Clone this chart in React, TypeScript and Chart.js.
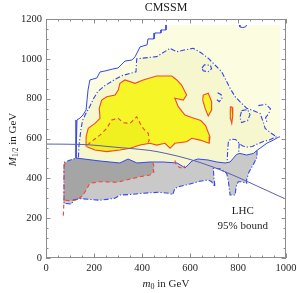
import React, { useEffect, useRef } from 'react';
import { Chart, registerables } from 'chart.js';
Chart.register(...registerables);

type P = [number, number];

// ---------- text & axes ----------
const chartTitle = 'CMSSM';
const xTickValues = [0, 200, 400, 600, 800, 1000];
const yTickValues = [0, 200, 400, 600, 800, 1000, 1200];
const minorStep = 50;
const xRange: P = [0, 1000];
const yRange: P = [0, 1200];
const boundLabels = ['LHC', '95% bound'];
const boundLabelM0 = [820, 820];
const boundLabelM = [236, 161];

// ---------- contours (m0, M1/2) in GeV ----------
const outerSolidLeft: P[] = [
  [500, 1170], [500, 1145], [479, 1145], [479, 1130], [454, 1130], [450, 1100], [425, 1100],
  [421, 1070], [392, 1060], [371, 1010], [358, 994], [329, 989], [321, 979], [300, 954],
  [279, 949], [246, 939], [225, 934], [212, 904], [183, 894], [175, 843], [167, 743],
  [154, 718], [142, 703], [129, 693], [125, 678], [125, 502],
];
const outerSolidLower: P[] = [
  [125, 502], [225, 487], [308, 477], [342, 497], [379, 477], [433, 482], [488, 482],
  [546, 477], [567, 462], [579, 452], [592, 467], [608, 487], [633, 497], [675, 492],
  [712, 482], [746, 477], [767, 482], [794, 520], [808, 525], [836, 517], [864, 525],
  [879, 540], [920, 576], [947, 592], [968, 606], [975, 609],
];
const gridCorner: P[] = [[975, 1170]];
const solidBlip: P[] = [[805, 1170], [808, 1160], [820, 1157], [832, 1161], [836, 1170]];

const dashDotUpper: P[] = [
  [135, 505], [137, 560], [145, 640], [152, 690], [166, 725], [180, 755], [195, 793],
  [215, 835], [245, 865], [285, 895], [315, 915], [375, 935], [378, 1000], [461, 1011],
  [517, 1053], [545, 1036], [575, 1044], [614, 1053], [649, 1028], [676, 1003],
  [704, 969], [732, 935], [746, 902], [767, 852], [788, 810], [808, 785], [836, 752],
  [857, 743], [892, 726], [905, 684], [913, 651], [940, 625], [961, 609], [935, 595],
  [905, 585], [880, 572], [860, 560], [840, 557], [820, 562], [805, 575], [790, 595],
  [770, 597], [760, 585], [757, 540], [755, 483],
];
const dashDotFinger: P[] = [[805, 575], [803, 528]];
const dashDotLower: P[] = [
  [879, 540], [879, 505], [864, 470], [845, 430], [836, 392], [836, 375], [815, 383],
  [801, 383], [792, 358], [788, 316], [767, 316], [760, 383], [753, 425], [725, 448],
  [697, 450], [700, 400], [704, 358], [690, 383], [676, 392], [640, 385], [600, 372],
  [560, 360], [537, 350], [528, 318], [515, 325], [470, 330], [400, 325], [363, 320],
  [308, 316], [287, 300], [225, 290], [142, 298], [114, 291], [107, 271], [75, 274],
  [75, 480], [125, 502],
];
const dashLoopA: P[] = [[650, 955], [660, 970], [685, 968], [690, 950], [675, 935], [655, 940], [650, 955]];
const dashLoopB: P[] = [[715, 830], [730, 820], [733, 800], [722, 785], [712, 795]];
const dashLoopC: P[] = [[815, 740], [840, 745], [850, 720], [840, 690], [815, 680], [808, 705], [815, 740]];
const dashLoopD: P[] = [[885, 765], [915, 772], [935, 750], [928, 725], [915, 705], [920, 684]];

const redSolidMain: P[] = [
  [167, 559], [167, 609], [176, 651], [204, 676], [225, 701], [222, 751], [232, 793],
  [253, 810], [288, 818], [301, 843], [308, 877], [329, 894], [371, 877], [405, 894],
  [461, 914], [524, 914], [545, 894], [565, 868], [586, 818], [572, 793], [537, 802],
  [551, 760], [579, 718], [607, 705], [645, 690], [665, 665], [683, 609], [680, 576],
  [642, 592], [607, 601], [586, 584], [537, 576], [517, 551], [496, 576], [461, 567],
  [433, 576], [392, 567], [350, 551], [308, 542], [253, 534], [204, 542], [170, 559],
  [167, 559],
];
const redSolidIsland: P[] = [[653, 793], [655, 818], [676, 827], [690, 785], [690, 743], [676, 713], [663, 751], [653, 793]];
const redSolidSliver: P[] = [[768, 760], [775, 757], [778, 715], [774, 676], [769, 700], [768, 760]];

const redDashedUpper: P[] = [
  [172, 567], [197, 592], [225, 617], [253, 651], [274, 693], [301, 701], [322, 679],
  [350, 676], [371, 701], [378, 709], [392, 676], [405, 651], [426, 626], [430, 590], [420, 572],
];
const redDashedUpperBase: P[] = [[392, 565], [350, 550], [308, 541], [253, 533], [204, 541], [172, 558]];
const redDashedLower: P[] = [
  [445, 480], [450, 460], [447, 440], [450, 433], [433, 417], [392, 408], [336, 392],
  [295, 380], [225, 383], [183, 375], [155, 316], [128, 291], [100, 288], [78, 290],
];
const redDashedLowerTop: P[] = [[80, 478], [125, 502], [225, 487], [308, 477], [342, 497], [379, 477], [433, 482]];
const redDashedLeft: P[] = [[80, 478], [75, 455], [75, 290], [72, 207]];
const redDashedHook: P[] = [[537, 490], [542, 470], [555, 455], [570, 450], [579, 462]];

const lhcM0 = [0, 150, 300, 433, 500, 600, 700, 800, 900, 1000];
const lhcM = [572, 570, 555, 540, 525, 495, 455, 405, 350, 295];

// ---------- colours ----------
const paleCream = '#fcfce1';
const cream = '#f6f6cf';
const yellow = '#f5f528';
const deepYellow = '#f0f020';
const lightGrey = '#c9c9c9';
const darkGrey = '#a5a5a5';
const blue = '#3446ee';
const red = '#f2482a';
const lhcBlue = '#5a5fb4';
const serif = '"Liberation Serif", "DejaVu Serif", serif';

const pts = (a: P[]) => a.map(([x, y]) => ({ x, y }));

function fillDs(data: P[], color: string) {
  return {
    data: pts(data), backgroundColor: color, borderColor: 'rgba(0,0,0,0)', borderWidth: 0,
    fill: 'shape', pointRadius: 0, pointHoverRadius: 0, tension: 0,
  };
}
function lineDs(data: P[], color: string, width: number, dash: number[] = []) {
  return {
    data: pts(data), borderColor: color, backgroundColor: color, borderWidth: width,
    borderDash: dash, fill: false, pointRadius: 0, pointHoverRadius: 0, tension: 0,
  };
}

function drawRich(ctx: CanvasRenderingContext2D, parts: { t: string; font: string; dy: number }[], cx: number, cy: number) {
  let w = 0;
  for (const p of parts) { ctx.font = p.font; w += ctx.measureText(p.t).width; }
  let x = cx - w / 2;
  ctx.textAlign = 'left';
  ctx.textBaseline = 'alphabetic';
  for (const p of parts) {
    ctx.font = p.font;
    ctx.fillText(p.t, x, cy + p.dy);
    x += ctx.measureText(p.t).width;
  }
}

const decorations = {
  id: 'decorations',
  afterDraw(chart: any) {
    const { ctx, chartArea: a, scales } = chart;
    const xs = scales.x, ys = scales.y;
    ctx.save();
    ctx.strokeStyle = '#8c8c8c';
    ctx.lineWidth = 1;
    ctx.strokeRect(a.left + 0.5, a.top + 0.5, a.right - a.left - 1, a.bottom - a.top - 1);
    ctx.beginPath();
    for (let v = xRange[0]; v <= xRange[1]; v += minorStep) {
      const px = Math.round(xs.getPixelForValue(v)) + 0.5;
      const len = xTickValues.includes(v) ? 4.5 : 2.5;
      ctx.moveTo(px, a.bottom); ctx.lineTo(px, a.bottom - len);
      ctx.moveTo(px, a.top); ctx.lineTo(px, a.top + len);
    }
    for (let v = yRange[0]; v <= yRange[1]; v += minorStep) {
      const py = Math.round(ys.getPixelForValue(v)) + 0.5;
      const len = yTickValues.includes(v) ? 4.5 : 2.5;
      ctx.moveTo(a.left, py); ctx.lineTo(a.left + len, py);
      ctx.moveTo(a.right, py); ctx.lineTo(a.right - len, py);
    }
    ctx.stroke();

    ctx.fillStyle = '#1e1e1e';
    ctx.font = `10.5px ${serif}`;
    ctx.textBaseline = 'middle';
    ctx.textAlign = 'center';
    for (const v of xTickValues) ctx.fillText(String(v), xs.getPixelForValue(v), a.bottom + 10.5);
    ctx.textAlign = 'right';
    for (const v of yTickValues) ctx.fillText(String(v), a.left - 4, ys.getPixelForValue(v));

    ctx.textAlign = 'center';
    ctx.font = `12px ${serif}`;
    ctx.fillText(chartTitle, 166, 8);

    ctx.font = `11px ${serif}`;
    boundLabels.forEach((t, i) => {
      ctx.fillText(t, xs.getPixelForValue(boundLabelM0[i]), ys.getPixelForValue(boundLabelM[i]));
    });

    drawRich(ctx, [
      { t: 'm', font: `italic 11px ${serif}`, dy: 0 },
      { t: '0', font: `8px ${serif}`, dy: 2.5 },
      { t: ' in GeV', font: `11px ${serif}`, dy: 0 },
    ], (a.left + a.right) / 2, 286.5);

    ctx.save();
    ctx.translate(15.5, (a.top + a.bottom) / 2 + 1);
    ctx.rotate(-Math.PI / 2);
    drawRich(ctx, [
      { t: 'M', font: `italic 11px ${serif}`, dy: 0 },
      { t: '1/2', font: `7.5px ${serif}`, dy: 2.5 },
      { t: ' in GeV', font: `11px ${serif}`, dy: 0 },
    ], 0, 0);
    ctx.restore();
    ctx.restore();
  },
};

export default function App() {
  const ref = useRef<HTMLCanvasElement>(null);
  useEffect(() => {
    if (!ref.current) return;
    const idx746 = outerSolidLower.findIndex(p => p[0] === 746);
    const idx879 = outerSolidLower.findIndex(p => p[0] === 879);
    const palePoly = [...outerSolidLeft, ...outerSolidLower.slice(1), ...gridCorner];
    const creamPoly = [...dashDotUpper, ...outerSolidLower.slice(0, idx746 + 1).reverse()];
    const greyPoly = [...outerSolidLower.slice(0, idx879 + 1), ...dashDotLower.slice(1, -1)];
    const darkGreyPoly = [...redDashedLowerTop, ...redDashedLower, [78, 455] as P];
    const deepYellowPoly = [...redDashedUpper, ...redDashedUpperBase];
    const solidBlue = [...outerSolidLeft, ...outerSolidLower.slice(1)];
    const lhc: P[] = lhcM0.map((m, i) => [m, lhcM[i]]);
    const dd = [5, 2, 1.2, 2];
    const rd = [4, 3];

    const list: any[] = [
      fillDs(palePoly, paleCream),
      fillDs(creamPoly, cream),
      fillDs(greyPoly, lightGrey),
      fillDs(darkGreyPoly, darkGrey),
      fillDs(redSolidMain, yellow),
      fillDs(redSolidIsland, yellow),
      fillDs(redSolidSliver, yellow),
      fillDs(deepYellowPoly, deepYellow),
      lineDs(dashDotUpper, blue, 1.1, dd),
      lineDs(dashDotFinger, blue, 1.1, dd),
      lineDs(dashDotLower, blue, 1.1, dd),
      lineDs(dashLoopA, blue, 1.1, dd),
      lineDs(dashLoopB, blue, 1.1, dd),
      lineDs(dashLoopC, blue, 1.1, dd),
      lineDs(dashLoopD, blue, 1.1, dd),
      lineDs(solidBlue, blue, 1, []),
      lineDs(solidBlip, blue, 1, []),
      lineDs(redDashedLower, red, 1.1, rd),
      lineDs(redDashedLeft, red, 1.1, rd),
      lineDs(redDashedUpper, red, 1.1, rd),
      lineDs(redDashedHook, red, 1.1, rd),
      lineDs(redSolidMain, red, 1.1, []),
      lineDs(redSolidIsland, red, 1.1, []),
      lineDs(redSolidSliver, red, 1.1, []),
      { ...lineDs(lhc, lhcBlue, 1, []), cubicInterpolationMode: 'monotone' },
    ];
    const datasets = list.map((d, i) => ({ ...d, order: list.length - i }));

    const chart = new Chart(ref.current, {
      type: 'line',
      data: { datasets },
      options: {
        responsive: false,
        animation: false,
        events: [],
        layout: { padding: { left: 46, right: 11, top: 19, bottom: 35 } },
        plugins: { legend: { display: false }, tooltip: { enabled: false }, title: { display: false } },
        scales: {
          x: { type: 'linear', min: xRange[0], max: xRange[1], display: false },
          y: { type: 'linear', min: yRange[0], max: yRange[1], display: false },
        },
      },
      plugins: [decorations],
    } as any);
    return () => chart.destroy();
  }, []);
  return (
    <div style={{ position: 'fixed', left: 0, top: 0, width: 297, height: 293, background: '#fff' }}>
      <canvas ref={ref} width={297} height={293} style={{ display: 'block' }} />
    </div>
  );
}
